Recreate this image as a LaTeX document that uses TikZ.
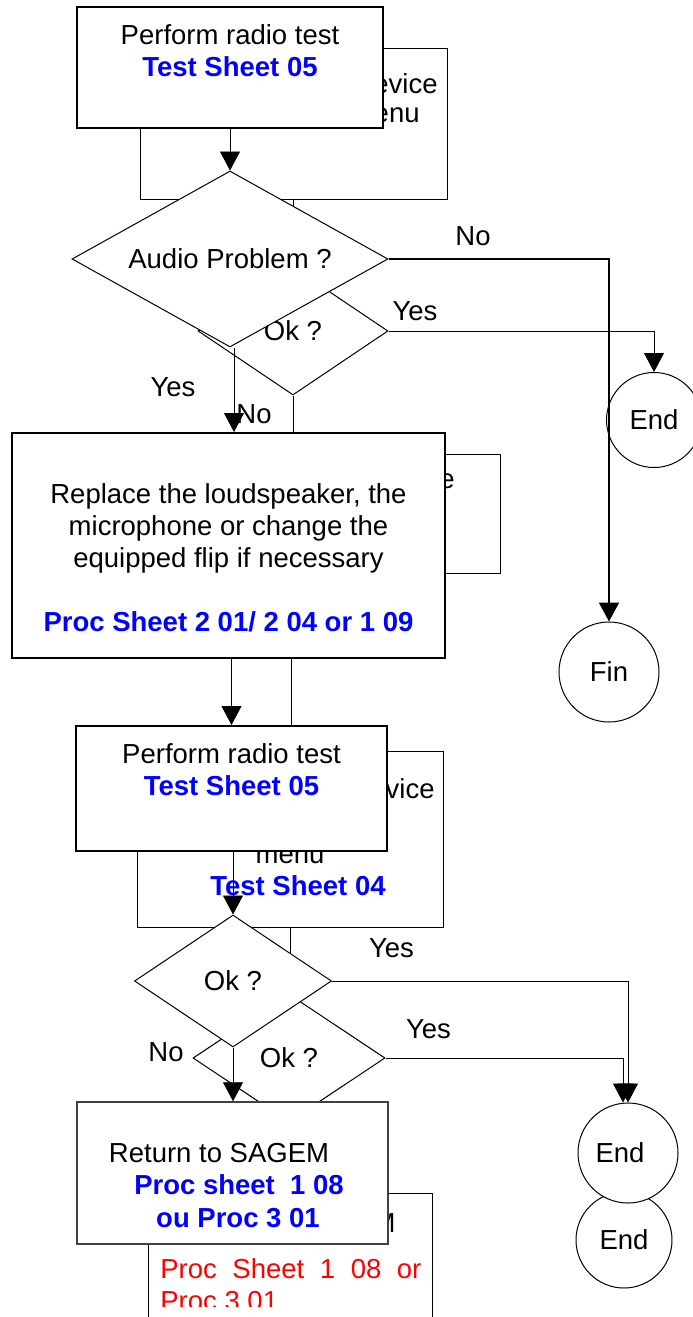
\documentclass[tikz,border=0pt]{standalone}
\usepackage{fontspec}
\setmainfont{Liberation Sans}
\usetikzlibrary{arrows.meta}
\usetikzlibrary{shapes.geometric}
\tikzset{>={Triangle[length=9.5pt,width=10pt]}}
\tikzset{
  txt/.style={font=\fontsize{13.75}{16}\selectfont, inner sep=0pt, align=center},
  sheettxt/.style={txt, font=\fontsize{13.75}{16}\selectfont\bfseries, text=blue},
  backbox/.style={draw, line width=0.5pt, fill=white, inner sep=0pt},
  frontbox/.style={draw, line width=1pt, fill=white, inner sep=0pt},
  query/.style={diamond, draw, line width=0.5pt, fill=white, inner sep=0pt, aspect=1.5, font=\fontsize{13.75}{16}\selectfont},
  endpt/.style={circle, draw, line width=0.5pt, fill=white, inner sep=0pt, font=\fontsize{13.75}{16}\selectfont},
}

\begin{document}
\begin{tikzpicture}
\begin{scope}[x=0.5pt, y=-0.5pt]
    \useasboundingbox[fill=white] (0,0) rectangle (692,1317);
    %back layer, bottom
    \node[backbox, minimum width=142pt, minimum height=73.5pt] (sagemB) at (290,1266.5) {};
    \node[txt, anchor=base east] (sagemBm) at (396,1232) {M};
    \begin{scope}
        \clip (150,1195) rectangle (430,1306);
        \node[txt, text=red, anchor=base west] (procA) at (160,1278) {\makebox[130.5pt][s]{Proc Sheet 1 08 or}};
        \node[txt, text=red, anchor=base west] (procB) at (160,1310) {Proc 3 01};
    \end{scope}
    \node[endpt, minimum size=48pt] (endC) at (624,1240) {End};
    %back layer, device boxes
    \node[backbox, minimum width=153pt, minimum height=88pt] (deviceB) at (290,839) {};
    \node[txt, anchor=base east] (deviceBa) at (435,798) {vice};
    \node[txt, anchor=base] (deviceBb) at (290,863) {menu};
    \node[sheettxt, anchor=base] (deviceBc) at (298,895) {Test Sheet 04};
    \node[query, minimum width=96pt, minimum height=64pt] (okSagem) at (289,1058) {Ok ?};
    \draw[->] (deviceB.south) -- (deviceB.south |- okSagem.north);
    \node[backbox, minimum width=209pt, minimum height=59.5pt] (replaceB) at (291,513.5) {};
    \node[txt, anchor=base east] (replaceBa) at (455,488) {e};
    \draw[->] (replaceB.south) -- (replaceB.south |- deviceB.north);
    \node[backbox, minimum width=153.5pt, minimum height=75.5pt] (deviceA) at (293.5,123.5) {};
    \node[txt, anchor=base east] (deviceAa) at (438,93) {evice};
    \node[txt, anchor=base east] (deviceAb) at (420,122) {enu};
    \node[query, minimum width=95pt, minimum height=64pt] (okAudio) at (293,331) {Ok ?};
    \draw[->] (deviceA.south) -- (okAudio.north);
    \draw[->] (okAudio.south) -- (okAudio.south |- replaceB.north);
    %front layer
    \node[frontbox, minimum width=153pt, minimum height=60.5pt] (radioA) at (230,67.5) {};
    \node[txt, anchor=base] (radioAtxt) at (230,76) {Perform radio test\\\textcolor{blue}{\bfseries Test Sheet 05}};
    \node[query, aspect=1.8, minimum width=158pt, minimum height=88pt] (audio) at (230,259) {Audio Problem ?};
    \node[frontbox, minimum width=216.5pt, minimum height=112.5pt] (replace) at (228.5,545.5) {};
    \node[txt, anchor=base] (replacetxt) at (228.5,631) {Replace the loudspeaker, the\\microphone or change the\\equipped flip if necessary\\[16pt]\textcolor{blue}{\bfseries Proc Sheet 2 01/ 2 04 or 1 09}};
    \node[frontbox, minimum width=155.5pt, minimum height=62.5pt] (radioB) at (231.5,788.5) {};
    \node[txt, anchor=base] (radioBtxt) at (231.5,795) {Perform radio test\\\textcolor{blue}{\bfseries Test Sheet 05}};
    \node[query, minimum width=98.5pt, minimum height=66pt] (okRadio) at (233,981) {Ok ?};
    \node[backbox, line width=0.75pt, draw=black!75, minimum width=155.5pt, minimum height=71pt] (sagem) at (232.5,1173) {};
    \node[txt, anchor=base] (sagema) at (219,1162) {Return to SAGEM};
    \node[sheettxt, anchor=base] (sagemb) at (239,1194) {Proc sheet~~1 08};
    \node[sheettxt, anchor=base] (sagemc) at (238,1227) {ou Proc 3 01};
    %end circles
    \node[endpt, minimum size=47.5pt] (endA) at (654,420) {End};
    \node[endpt, minimum size=50pt] (fin) at (609,672) {Fin};
    \node[endpt, minimum size=50pt] (endB) at (628,1153) {\hspace*{-8pt}End};
    %arrows
    \draw[->] (radioA.south) -- (audio.north);
    \draw[->] ([xshift=2pt]audio.south) -- ([xshift=2pt]audio.south |- replace.north);
    \draw[->] (radioB.north |- replace.south) -- (radioB.north);
    \draw[->] (okRadio.north |- radioB.south) -- (okRadio.north);
    \draw[->] (okRadio.south) -- (okRadio.south |- sagem.north);
    \draw[->, line width=1pt] (audio.east) -| (fin.north);
    \draw[->] (okAudio.east) -| (endA.north);
    \draw[->] (okRadio.east) -| (endB.north);
    \draw[->] (okSagem.east) -| ([xshift=-2.5pt]endB.north);
    %arrow labels
    \node[txt, anchor=base] (lno1) at (473,245) {No};
    \node[txt, anchor=base] (lyes1) at (415,320) {Yes};
    \node[txt, anchor=base] (lyes2) at (173,396) {Yes};
    \node[txt, anchor=base] (lno2) at (254,423) {No};
    \node[txt, anchor=base] (lyes3) at (391.5,957) {Yes};
    \node[txt, anchor=base] (lyes4) at (428.5,1038) {Yes};
    \node[txt, anchor=base] (lno3) at (166,1061) {No};
\end{scope}
\end{tikzpicture}
\end{document}
